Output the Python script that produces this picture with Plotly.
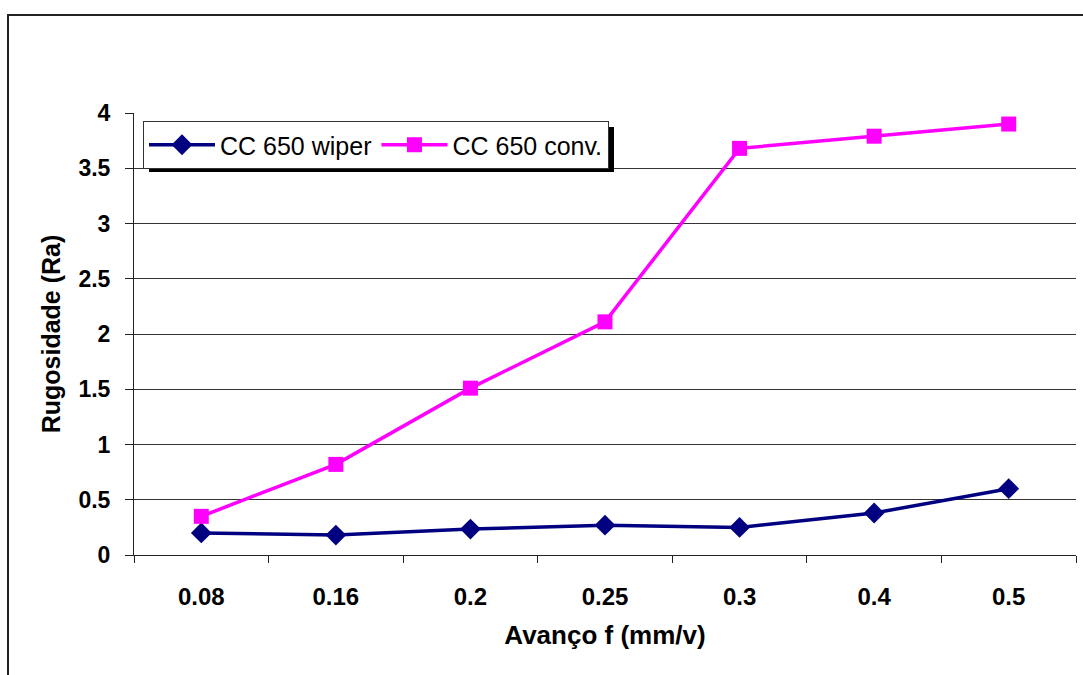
import plotly.graph_objects as go

categories = ["0.08", "0.16", "0.2", "0.25", "0.3", "0.4", "0.5"]
wiper = [0.20, 0.18, 0.235, 0.27, 0.25, 0.38, 0.60]
conv = [0.35, 0.82, 1.51, 2.11, 3.68, 3.79, 3.90]
y_ticks = [0, 0.5, 1, 1.5, 2, 2.5, 3, 3.5, 4]
y_tick_text = ["0", "0.5", "1", "1.5", "2", "2.5", "3", "3.5", "4"]

FONT = "Liberation Sans, Arial, sans-serif"

fig = go.Figure()
fig.add_trace(go.Scatter(
    x=categories, y=wiper, name="CC 650 wiper", mode="lines+markers",
    line=dict(color="#000080", width=3.5),
    marker=dict(symbol="diamond", size=16, color="#000080"),
))
fig.add_trace(go.Scatter(
    x=categories, y=conv, name="CC 650 conv.", mode="lines+markers",
    line=dict(color="#FF00FF", width=3.5),
    marker=dict(symbol="square", size=15, color="#FF00FF"),
))

L, R, T, B = 134, 1076, 113, 555
W, H = R - L, B - T
def px(x):
    return (x - L) / W
def py(y):
    return (B - y) / H

fig.update_layout(
    width=1083, height=675,
    margin=dict(l=L, r=1083 - R, t=T, b=675 - B),
    paper_bgcolor="white", plot_bgcolor="white",
    font=dict(family=FONT, color="black"),
    showlegend=True,
    legend=dict(
        x=px(143), y=py(121), xanchor="left", yanchor="top",
        orientation="h", bgcolor="white", bordercolor="#333", borderwidth=1,
        font=dict(size=25, family=FONT, color="black"),
        itemwidth=66, tracegroupgap=0,
    ),
    xaxis=dict(
        type="category", showgrid=False, showline=True, linecolor="#222", linewidth=1,
        ticks="outside", ticklen=7, tickcolor="#222", tickson="boundaries",
        tickfont=dict(size=24, family=FONT, color="black", weight="bold"),
        ticklabelstandoff=20,
        title=dict(text="<b>Avanço f (mm/v)</b>", font=dict(size=26, family=FONT), standoff=17),
        range=[-0.5, 6.5],
    ),
    yaxis=dict(
        range=[0, 4], tickvals=y_ticks, ticktext=y_tick_text,
        showgrid=True, gridcolor="#333", gridwidth=1,
        showline=True, linecolor="#222", linewidth=1,
        ticks="outside", ticklen=8, tickcolor="#222",
        tickfont=dict(size=23, family=FONT, color="black", weight="bold"),
        ticklabelstandoff=10,
        title=dict(text="<b>Rugosidade (Ra)</b>", font=dict(size=25, family=FONT), standoff=10),
        zeroline=False,
    ),
    shapes=[
        dict(type="rect", xref="paper", yref="paper",
             x0=px(8), x1=px(1095), y0=py(15), y1=py(700),
             line=dict(color="#222", width=2), fillcolor="rgba(0,0,0,0)", layer="above"),
        dict(type="rect", xref="paper", yref="paper",
             x0=px(149), x1=px(614), y0=py(127), y1=py(172),
             line=dict(width=0), fillcolor="black", layer="above"),
    ],
)

fig.write_html("out.html")
